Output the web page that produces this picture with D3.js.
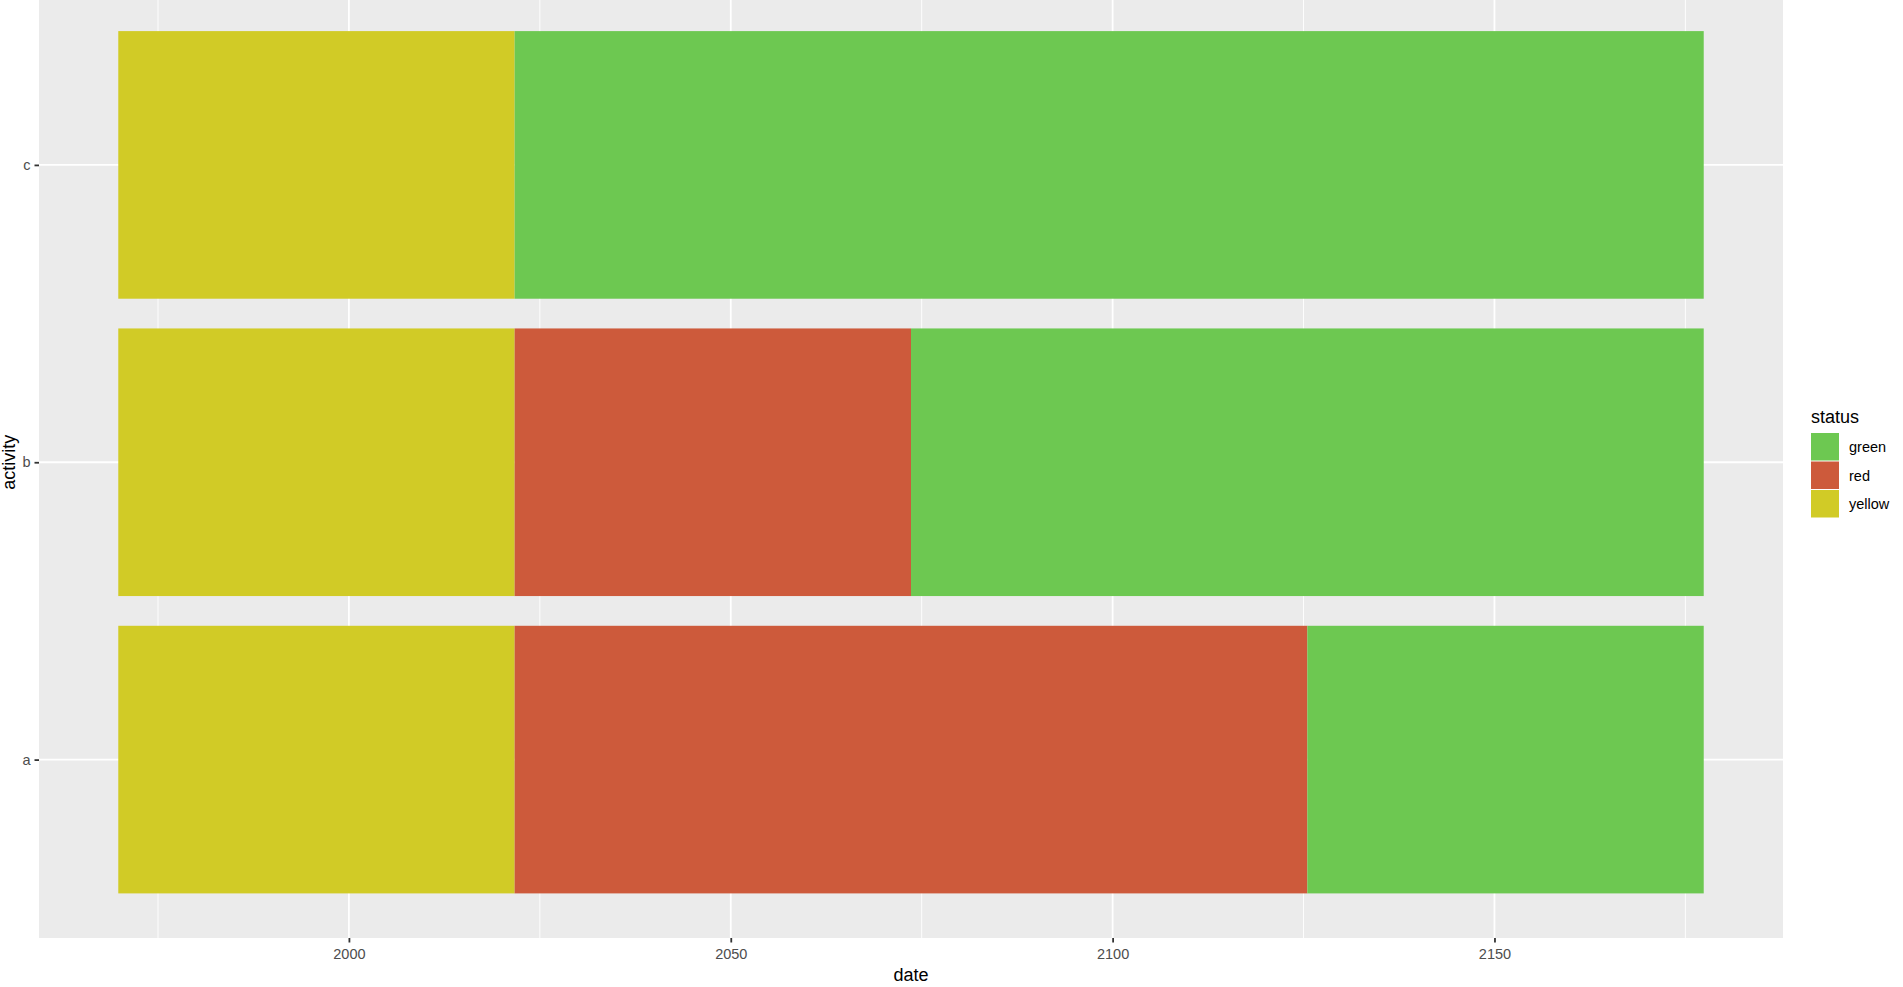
<!DOCTYPE html>
<meta charset="utf-8">
<style>

body {
	margin: 0;
	background: #fff;
	font-family: "Liberation Sans", Arial, sans-serif;
}

.grid-major line {
	stroke: #fff;
	stroke-width: 1.8;
}

.grid-minor line {
	stroke: #fff;
	stroke-width: 0.9;
}

.axis text {
	fill: #4d4d4d;
	font-size: 14.5px;
}

.axis line {
	stroke: #333;
	stroke-width: 1.8;
}

.title {
	fill: #000;
	font-size: 18px;
}

</style>
<svg width="1903" height="987"></svg>
<script src="https://d3js.org/d3.v7.min.js"></script>
<script>

	// one row per coloured segment of a bar
	var segActivity = ["a", "a", "a", "b", "b", "b", "c", "c"];
	var segStatus   = ["yellow", "red", "green", "yellow", "red", "green", "yellow", "green"];
	var dateFrom    = [1969.8, 2021.7, 2125.5, 1969.8, 2021.7, 2073.6, 1969.8, 2021.7];
	var dateTo      = [2021.7, 2125.5, 2177.4, 2021.7, 2073.6, 2177.4, 2021.7, 2177.4];

	var activities = ["c", "b", "a"];   // top to bottom
	var statusLevels = ["green", "red", "yellow"];
	var statusColors = ["#6dc851", "#cd5a3b", "#d1cb26"];
	var xTicks = [2000, 2050, 2100, 2150];
	var xMinor = [1975, 2025, 2075, 2125, 2175];

	var svg = d3.select("svg");

	// panel box (its top sits just above the window, as in the picture)
	var panelLeft = 39, panelRight = 1783, panelTop = -13.5, panelBottom = 938;

	var lo = d3.min(dateFrom), hi = d3.max(dateTo),
		pad = (hi - lo) * 0.05;

	var x = d3.scaleLinear()
		.domain([lo - pad, hi + pad])
		.range([panelLeft, panelRight]);

	var unit = (panelBottom - panelTop) / (activities.length - 1 + 1.2);
	var y = d3.scalePoint()
		.domain(activities)
		.range([panelTop + 0.6 * unit, panelBottom - 0.6 * unit]);

	var barH = unit * 0.9;

	var color = d3.scaleOrdinal()
		.domain(statusLevels)
		.range(statusColors);

	// panel background
	svg.append("rect")
		.attr("x", panelLeft)
		.attr("y", panelTop)
		.attr("width", panelRight - panelLeft)
		.attr("height", panelBottom - panelTop)
		.attr("fill", "#ebebeb");

	svg.append("g")
		.attr("class", "grid-minor")
	  .selectAll("line")
	  .data(xMinor)
	  .enter().append("line")
		.attr("x1", x).attr("x2", x)
		.attr("y1", panelTop).attr("y2", panelBottom);

	var major = svg.append("g").attr("class", "grid-major");
	major.selectAll(".v")
	  .data(xTicks)
	  .enter().append("line")
		.attr("class", "v")
		.attr("x1", x).attr("x2", x)
		.attr("y1", panelTop).attr("y2", panelBottom);
	major.selectAll(".h")
	  .data(activities)
	  .enter().append("line")
		.attr("class", "h")
		.attr("x1", panelLeft).attr("x2", panelRight)
		.attr("y1", y).attr("y2", y);

	// bars
	svg.append("g")
	  .selectAll("rect")
	  .data(d3.range(segActivity.length))
	  .enter().append("rect")
		.attr("x", function(i) { return x(dateFrom[i]); })
		.attr("width", function(i) { return x(dateTo[i]) - x(dateFrom[i]); })
		.attr("y", function(i) { return y(segActivity[i]) - barH / 2; })
		.attr("height", barH)
		.attr("fill", function(i) { return color(segStatus[i]); });

	// axes
	var xAxis = svg.append("g")
		.attr("class", "axis")
		.attr("transform", "translate(0," + panelBottom + ")")
		.call(d3.axisBottom(x).tickValues(xTicks).tickFormat(d3.format("d")).tickSize(4.5).tickPadding(6));
	xAxis.select(".domain").remove();

	var yAxis = svg.append("g")
		.attr("class", "axis")
		.attr("transform", "translate(" + panelLeft + ",0)")
		.call(d3.axisLeft(y).tickSize(4.5).tickPadding(4));
	yAxis.select(".domain").remove();

	svg.append("text")
		.attr("class", "title")
		.attr("x", (panelLeft + panelRight) / 2)
		.attr("y", 981)
		.attr("text-anchor", "middle")
		.text("date");

	svg.append("text")
		.attr("class", "title")
		.attr("transform", "translate(15," + (panelTop + panelBottom) / 2 + ") rotate(-90)")
		.attr("text-anchor", "middle")
		.text("activity");

	// legend
	var legend = svg.append("g")
		.attr("transform", "translate(1811,433)");

	legend.append("text")
		.attr("class", "title")
		.attr("x", 0)
		.attr("y", -10)
		.text("status");

	var key = legend.selectAll(".key")
	  .data(statusLevels)
	  .enter().append("g")
		.attr("class", "key")
		.attr("transform", function(d, i) { return "translate(0," + i * 28.5 + ")"; });

	key.append("rect")
		.attr("width", 28)
		.attr("height", 27.5)
		.attr("fill", function(d) { return color(d); });

	key.append("text")
		.attr("x", 38)
		.attr("y", 14)
		.attr("dy", "0.35em")
		.style("font-size", "14.5px")
		.style("fill", "#000")
		.text(function(d) { return d; });

</script>
